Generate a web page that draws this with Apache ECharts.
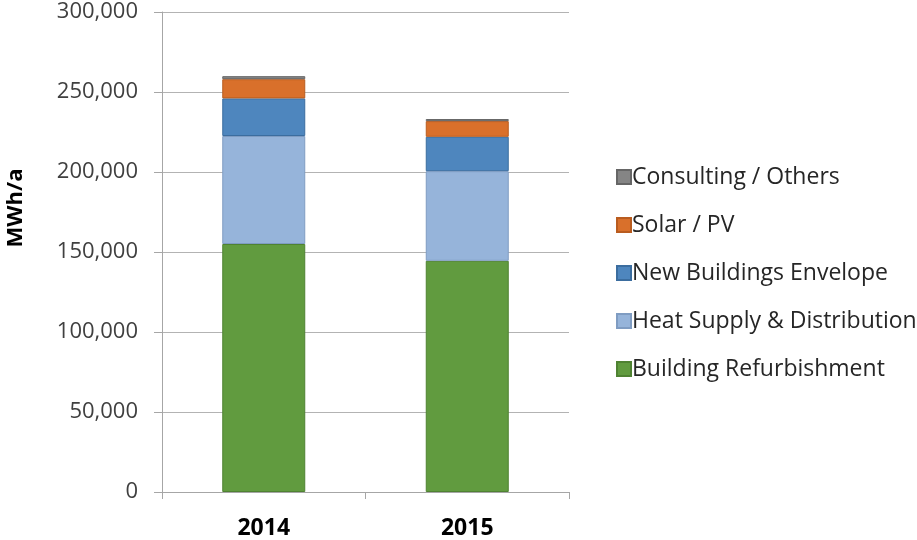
<!DOCTYPE html>
<html>
<head>
<meta charset="utf-8">
<script src="https://cdn.jsdelivr.net/npm/echarts@6/dist/echarts.min.js"></script>
<style>
  html, body { margin: 0; padding: 0; background: #fff; }
  #chart { width: 917px; height: 540px; }
</style>
</head>
<body>
<div id="chart"></div>
<script>
// Energy savings by measure, MWh per year
const years = ['2014', '2015'];
const buildingRefurbishment = [155000, 144500];
const heatSupplyDistribution = [67500, 56000];
const newBuildingsEnvelope = [23500, 21500];
const solarPV = [12000, 9800];
const consultingOthers = [1900, 1300];
const yTicks = { min: 0, max: 300000, interval: 50000 };

const seriesDefs = [
  { name: 'Building Refurbishment', data: buildingRefurbishment, color: '#619B3F', border: '#4F8232' },
  { name: 'Heat Supply & Distribution', data: heatSupplyDistribution, color: '#96B4DA', border: '#7F9CC2' },
  { name: 'New Buildings Envelope', data: newBuildingsEnvelope, color: '#4E86BE', border: '#3B6D9F' },
  { name: 'Solar / PV', data: solarPV, color: '#D9702B', border: '#B95C1F' },
  { name: 'Consulting / Others', data: consultingOthers, color: '#858585', border: '#666666' }
];

const font = '"Open Sans", "Noto Sans", sans-serif';
const chart = echarts.init(document.getElementById('chart'), null, { renderer: 'canvas' });

chart.setOption({
  animation: false,
  backgroundColor: '#ffffff',
  textStyle: { fontFamily: font },
  grid: { left: 162, right: 348, top: 12, bottom: 48, containLabel: false },
  legend: {
    orient: 'vertical',
    left: 611,
    top: 160,
    itemWidth: 14,
    itemHeight: 14,
    itemGap: 24,
    icon: 'rect',
    data: seriesDefs.map(s => s.name).reverse(),
    textStyle: { fontFamily: font, fontSize: 23, color: '#262626', lineHeight: 24, padding: [0, 0, 0, -4] }
  },
  xAxis: {
    type: 'category',
    data: years,
    axisLine: { lineStyle: { color: '#A6A6A6', width: 1 } },
    axisTick: { show: true, length: 7, lineStyle: { color: '#A6A6A6' } },
    axisLabel: { fontFamily: font, fontSize: 23, fontWeight: 'bold', color: '#000', margin: 25 }
  },
  yAxis: {
    type: 'value',
    min: yTicks.min,
    max: yTicks.max,
    interval: yTicks.interval,
    axisLine: { show: true, lineStyle: { color: '#A6A6A6', width: 1 } },
    axisTick: { show: true, length: 8, lineStyle: { color: '#A6A6A6' } },
    splitLine: { show: true, lineStyle: { color: '#B3B3B3', width: 1 } },
    axisLabel: {
      fontFamily: font, fontSize: 22, color: '#404040', margin: 24,
      formatter: v => v.toLocaleString('en-US')
    }
  },
  graphic: [{
    type: 'text',
    x: 16,
    y: 208,
    rotation: Math.PI / 2,
    style: {
      text: 'MWh/a',
      fontFamily: font,
      fontSize: 22,
      fontWeight: 'bold',
      fill: '#000',
      align: 'center',
      verticalAlign: 'middle'
    }
  }],
  series: seriesDefs.map(s => ({
    name: s.name,
    type: 'bar',
    stack: 'total',
    data: s.data,
    barWidth: 83,
    itemStyle: { color: s.color, borderColor: s.border, borderWidth: 1 },
    emphasis: { disabled: true }
  }))
});
</script>
</body>
</html>
